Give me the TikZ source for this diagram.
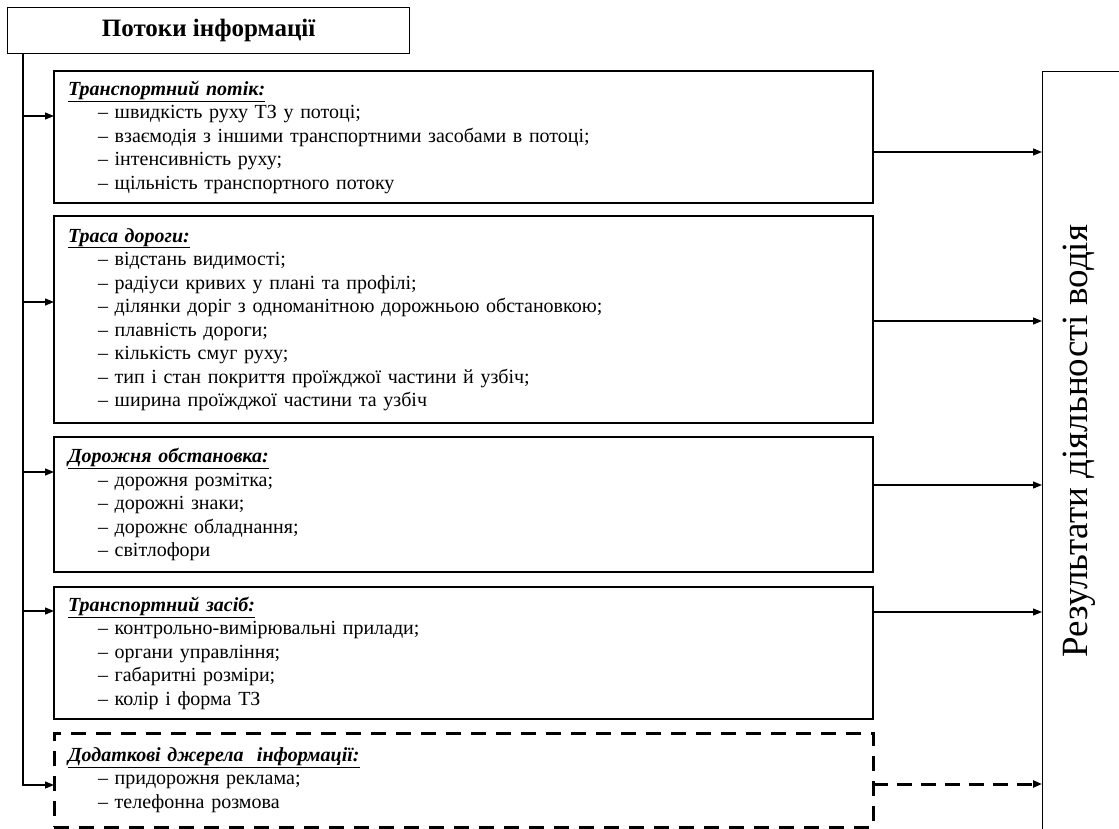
\documentclass[tikz,border=0pt]{standalone}
\usepackage{fontspec}
\setmainfont{Liberation Serif}
\usetikzlibrary{arrows.meta,positioning}

\begin{document}
\begin{tikzpicture}[
  x=1pt,
  y=-1pt,
  box/.style={draw,line width=1.2pt,outer sep=0pt,anchor=north west,align=left,text width=791pt,inner xsep=14pt,inner ysep=0pt,font=\fontsize{20}{23.5}\selectfont},
  extrabox/.style={box,line width=3pt,dash pattern=on 15pt off 10pt},
  head/.style={draw,line width=1.2pt,anchor=north west,minimum width=402pt,minimum height=46pt,font=\bfseries\fontsize{25}{28}\selectfont},
  arr/.style={line width=1.2pt,-{Triangle[length=9pt,width=7pt]}},
  darr/.style={arr,line width=3pt,dash pattern=on 15pt off 9pt}
]
  \useasboundingbox (0,0) rectangle (1119,829);
  \clip (0,0) rectangle (1119,829);

  % title
  \node[head] (flows) at (7,7) {Потоки інформації};
  \coordinate (trunk) at ([xshift=16pt]flows.south west);

  % sources
  \node[box,minimum height=132pt] (traffic) at (54,71) {\textbf{\textit{\underline{Транспортний потік:}}}\\
    \hspace*{30pt}– швидкість руху ТЗ у потоці;\\
    \hspace*{30pt}– взаємодія з іншими транспортними засобами в потоці;\\
    \hspace*{30pt}– інтенсивність руху;\\
    \hspace*{30pt}– щільність транспортного потоку};
  \node[box,minimum height=207pt,below=13pt of traffic] (route) {\textbf{\textit{\underline{Траса дороги:}}}\\
    \hspace*{30pt}– відстань видимості;\\
    \hspace*{30pt}– радіуси кривих у плані та профілі;\\
    \hspace*{30pt}– ділянки доріг з одноманітною дорожньою обстановкою;\\
    \hspace*{30pt}– плавність дороги;\\
    \hspace*{30pt}– кількість смуг руху;\\
    \hspace*{30pt}– тип і стан покриття проїжджої частини й узбіч;\\
    \hspace*{30pt}– ширина проїжджої частини та узбіч};
  \node[box,minimum height=135pt,below=14pt of route] (roadenv) {\textbf{\textit{\underline{Дорожня обстановка:}}}\\
    \hspace*{30pt}– дорожня розмітка;\\
    \hspace*{30pt}– дорожні знаки;\\
    \hspace*{30pt}– дорожнє обладнання;\\
    \hspace*{30pt}– світлофори};
  \node[box,minimum height=132pt,below=15pt of roadenv] (vehicle) {\textbf{\textit{\underline{Транспортний засіб:}}}\\
    \hspace*{30pt}– контрольно-вимірювальні прилади;\\
    \hspace*{30pt}– органи управління;\\
    \hspace*{30pt}– габаритні розміри;\\
    \hspace*{30pt}– колір і форма ТЗ};
  \node[extrabox,minimum height=94pt,below=14pt of vehicle] (extra) {\textbf{\textit{\underline{Додаткові джерела\ \ інформації:}}}\\
    \hspace*{30pt}– придорожня реклама;\\
    \hspace*{30pt}– телефонна розмова};

  % result
  \node[draw,line width=1.2pt,anchor=north west,minimum width=120pt,minimum height=800pt] (results) at (1042,71) {};
  \node[rotate=90,font=\fontsize{37}{42}\selectfont] (resultslabel) at (1079,441) {Результати діяльності водія};

  % connectors
  \foreach \b/\l/\r in {traffic/45/81,route/86/105,roadenv/35/48,vehicle/24/25} {
    \coordinate (in-\b) at ([yshift=-\l pt]\b.north west);
    \coordinate (out-\b) at ([yshift=-\r pt]\b.north east);
    \draw[arr] (trunk |- in-\b) -- (in-\b);
    \draw[arr] (out-\b) -- (out-\b -| results.west);
  }
  \coordinate (in-extra) at ([yshift=-52pt]extra.north west);
  \coordinate (out-extra) at ([yshift=-51pt]extra.north east);
  \draw[arr] (trunk) |- (in-extra);
  \draw[darr] (out-extra) -- (out-extra -| results.west);
\end{tikzpicture}
\end{document}
